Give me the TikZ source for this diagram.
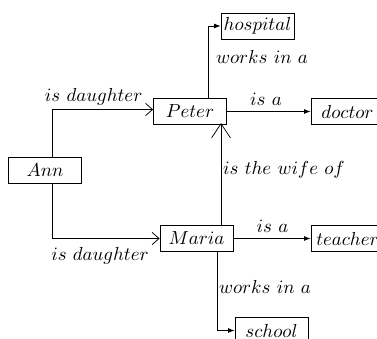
\documentclass[tikz,border=0pt]{standalone}
\usetikzlibrary{arrows.meta}
\begin{document}
\begin{tikzpicture}[x=0.53pt,y=-0.53pt,
  box/.style={draw, minimum width=38.7pt, minimum height=13.8pt, inner sep=1pt},
  lbl/.style={inner sep=0pt},
  openarr/.style={-{Straight Barb[length=3.7pt,width=6.5pt]}},
  bigarr/.style={-{Straight Barb[length=7.5pt,width=10pt]}},
  fillarr/.style={-{Latex[length=3.5pt,width=2.6pt]}}]
\useasboundingbox (0,0) rectangle (377,338);
% nodes
\node[box] (hospital) at (257.5,26) {$hospital$};
\node[box] (peter) at (190,111.5) {$Peter$};
\node[box] (doctor) at (347.5,111.5) {$doctor$};
\node[box] (ann) at (45,170.5) {$Ann$};
\node[box] (maria) at (196.5,238.5) {$Maria$};
\node[box] (teacher) at (347.5,238.5) {$teacher$};
\node[box] (school) at (271.5,330.5) {$school$};
% helper coordinates
\coordinate (ax) at (52,0);
\coordinate (py) at (0,109.5);
\coordinate (hx) at (208,0);
\coordinate (wx) at (221,0);
\coordinate (sx) at (217.3,0);
% connectors
\draw[openarr] (ann.north -| ax) |- (peter.west |- py);
\draw[openarr] (ann.south -| ax) |- (maria.west);
\draw[fillarr] (peter.north -| hx) |- (hospital.west);
\draw[fillarr] (peter.east) -- (doctor.west);
\draw[bigarr, shorten >=-1pt] (maria.north -| wx) -- (peter.south -| wx);
\draw[fillarr] (maria.east) -- (teacher.west);
\draw[fillarr] (maria.south -| sx) |- (school.west);
% labels
\node[lbl] (l1) at (93.7,96.7) {$is\ daughter$};
\node[lbl] (l2) at (100,256) {$is\ daughter$};
\node[lbl] (l3) at (262,56.7) {$works\ in\ a$};
\node[lbl] (l4) at (266,99.3) {$is\ a$};
\node[lbl] (l5) at (284,170) {$is\ the\ wife\ of$};
\node[lbl] (l6) at (272.5,226) {$is\ a$};
\node[lbl] (l7) at (265,287) {$works\ in\ a$};
\end{tikzpicture}
\end{document}
